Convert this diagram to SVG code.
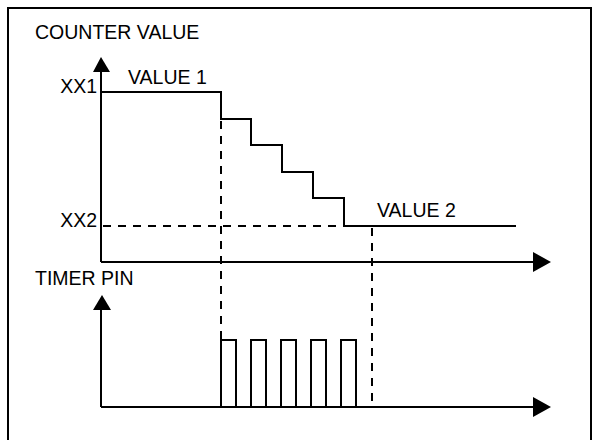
<svg xmlns="http://www.w3.org/2000/svg" width="593" height="440" viewBox="0 0 593 440">
  <defs>
    <style>
      .lbl { font-family: "Liberation Sans", Arial, sans-serif; font-size: 19.5px; fill: #000; }
      .ln { stroke: #000; stroke-width: 2; fill: none; }
      .dash { stroke: #000; stroke-width: 2; fill: none; stroke-dasharray: 8 7; }
      .head { fill: #000; stroke: none; }
    </style>
  </defs>
  <rect width="593" height="440" fill="#fff"/>
  <rect id="frame" x="8" y="8" width="583" height="450" fill="none" stroke="#000" stroke-width="2"/>

  <g id="labels">
    <text class="lbl" x="35" y="39">COUNTER VALUE</text>
    <text class="lbl" x="97" y="93" text-anchor="end">XX1</text>
    <text class="lbl" x="97" y="227" text-anchor="end">XX2</text>
    <text class="lbl" x="128" y="84">VALUE 1</text>
    <text class="lbl" x="377" y="217">VALUE 2</text>
    <text class="lbl" x="35" y="285">TIMER PIN</text>
  </g>

  <g id="connectors">
    <!-- upper axes -->
    <line class="ln" x1="101" y1="70" x2="101" y2="262"/>
    <polygon class="head" points="101,57 93,72 110,72"/>
    <line class="ln" x1="101" y1="262" x2="535" y2="262"/>
    <polygon class="head" points="551,262 533,252 533,272"/>
    <!-- lower axes -->
    <line class="ln" x1="101" y1="308" x2="101" y2="407"/>
    <polygon class="head" points="102,295 93,310 111,310"/>
    <line class="ln" x1="101" y1="407" x2="535" y2="407"/>
    <polygon class="head" points="551,407 533,397 533,417"/>
    <!-- dashed guides -->
    <line class="dash" x1="103" y1="226" x2="344" y2="226"/>
    <line class="dash" x1="221" y1="121" x2="221" y2="340"/>
    <line class="dash" x1="372" y1="228" x2="372" y2="407"/>
  </g>

  <g id="counter-trace">
    <path class="ln" d="M101,92 H221 V119 H251 V145 H282 V172 H313 V198 H344 V226 H516"/>
  </g>

  <g id="timer-pulses">
    <path class="ln" d="M221,407 V340 H236 V407 M251,407 V340 H266 V407 M281,407 V340 H296 V407 M311,407 V340 H326 V407 M341,407 V340 H356 V407"/>
  </g>
</svg>
